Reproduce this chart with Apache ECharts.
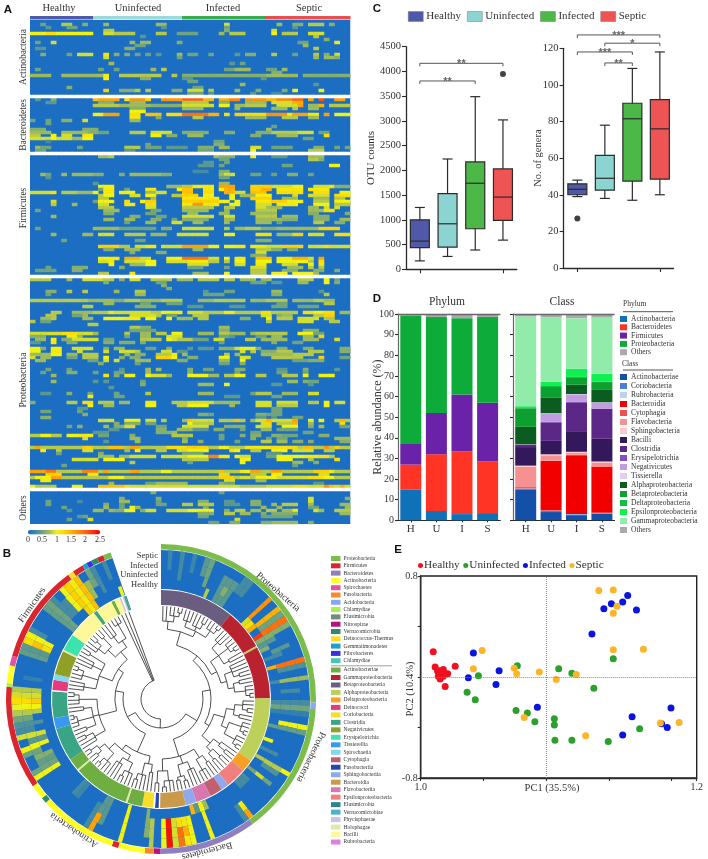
<!DOCTYPE html>
<html><head><meta charset="utf-8">
<style>html,body{margin:0;padding:0;background:#fff}#c{width:708px;height:859px}</style>
<script src="https://cdn.jsdelivr.net/npm/echarts@6/dist/echarts.min.js"></script>
</head><body><div id="c"></div>
<script>
const SERIF = "'Liberation Serif','Times New Roman',serif";
const SANS = "'Liberation Sans',Arial,sans-serif";
/* ---------- Panel A : heat map, rows listed as [row, from,to,value, from,to,value, ...] ---------- */
const heatColumns = 61, heatRows = 168;
const heatSeparators = [25, 44, 85, 156];
const heatGroups = ['Healthy', 'Uninfected', 'Infected', 'Septic'];
const heatActinobacteria = [
[1, 2,2,.5, 6,7,.8, 10,10,.6, 14,14,.7, 24,25,.7, 37,37,.9, 47,47,.7, 50,51,.6, 53,55,.8, 57,57,.6],
[2, 3,3,.4, 7,8,.5, 25,25,.4, 37,37,.5, 50,50,.4],
[3, 14,15,.8, 37,37,.6, 46,46,.9],
[4, 0,11,1, 3,4,1.2, 14,15,.9, 16,19,.8, 24,25,.8, 28,30,.5, 31,31,.5, 36,36,.7, 38,40,.8, 46,46,1, 48,50,.8, 53,55,.9],
[5, 21,21,.4, 54,54,.8],
[6, 56,56,.6],
[7, 1,1,.5, 4,4,.9, 19,19,.7, 21,22,.7, 28,28,.6, 51,52,.5, 58,58,1.1],
[8, 20,21,.5, 52,52,.7],
[9, 1,2,.4, 18,19,.6, 54,54,.8],
[11, 2,2,.6, 7,7,.5, 9,11,.9, 14,14,1.1, 16,16,.6, 18,18,.6, 20,20,.5, 22,22,.5, 24,24,.4, 28,28,.7, 30,31,.5, 34,34,.5, 39,39,.4, 41,42,.6, 46,46,.8, 50,50,.5, 54,54,.8, 56,56,.6, 58,58,.9],
[12, 14,14,.9, 28,28,.5, 54,54,.7, 56,57,.7, 58,58,.6],
[14, 15,15,.7, 38,38,.4, 40,40,.5],
[16, 1,1,.5, 13,13,.5, 16,16,.5, 23,23,.7, 25,25,.8, 37,38,.5, 39,41,.7, 45,46,.5, 48,48,.7],
[17, 46,47,.6],
[18, 0,3,.7, 6,13,.7, 14,14,1.1, 17,24,.8, 27,27,.8, 29,44,.6, 45,50,.7, 52,60,.6],
[19, 14,14,1, 21,22,.6, 29,30,.4, 44,44,.4],
[20, 30,31,.5],
[21, 40,40,.7, 54,54,.4],
[22, 7,7,.6, 31,32,.5],
[23, 14,14,1.3, 17,19,.6, 20,20,.8, 22,22,.8, 27,28,.6, 30,32,.9, 34,34,.8, 39,39,.7, 43,43,.6, 48,48,.6, 50,50,1, 55,55,1],
[24, 30,32,.5, 34,34,.4, 42,42,.4, 46,47,.3]];
const heatBacteroidetes = [
[26, 1,1,.4, 4,4,.6, 12,12,1.4, 13,16,1.6, 18,18,1.2, 19,21,1.7, 22,22,1.3, 25,28,1.7, 29,32,2, 33,34,1.5, 36,37,1.5, 38,39,1.8, 41,44,1.7, 45,46,1.5, 47,49,1.8, 50,51,2, 53,53,1.6, 55,55,2.1, 58,59,1.6],
[27, 3,4,.4, 13,15,.6, 19,21,.7, 29,33,.8, 36,37,.6, 41,44,.7, 46,50,.9, 50,51,1.5],
[28, 12,16,.8, 17,22,.7, 23,28,.6, 29,34,.9, 36,37,1, 39,40,.7, 41,44,.8, 47,50,.9, 51,51,1.6, 53,54,.7, 55,55,1.5, 57,60,.8],
[29, 19,21,.6, 29,32,.7, 39,39,.7, 46,48,.7, 50,50,.8, 53,54,.7],
[30, 19,21,1],
[31, 12,13,1, 14,16,1.6, 19,20,1.2, 22,24,1.4, 26,29,1.2, 29,33,1.9, 34,35,1.5, 37,37,1.2, 39,40,1.3, 41,44,1.2, 45,48,1.7, 49,50,1.1, 50,53,1.6, 53,54,1.1, 56,56,1.6, 58,60,1],
[32, 19,20,1.1, 24,24,.6, 31,32,.8, 41,44,.7, 48,50,.8, 53,54,.7],
[33, 0,0,.5, 3,3,.5, 6,7,.6, 10,10,.9, 19,20,.7],
[34, 3,3,.5],
[35, 46,46,.5],
[36, 0,2,.6, 10,12,.6, 45,45,.7],
[37, 0,3,.7, 6,10,.7, 11,12,.6, 13,14,.5, 19,21,.8, 23,24,.9, 25,26,.9, 29,33,.6, 37,38,.6, 43,45,.6, 46,50,.8, 51,53,.9, 55,56,.5],
[38, 0,1,.8, 4,4,1, 6,7,.9, 10,11,1.1, 23,24,1, 26,27,.6, 30,32,.7, 42,43,.6, 47,50,.7, 56,56,1.2],
[39, 0,3,.9, 4,4,1, 5,8,.9, 8,10,.7, 10,11,1, 52,53,.5],
[40, 3,3,.3, 35,36,.5],
[41, 22,22,.5, 35,36,.6],
[42, 1,1,.7, 2,3,.5, 9,9,.5, 18,20,.8, 22,24,.5, 26,27,.4, 28,29,.4, 32,34,.6, 36,37,.7, 42,43,.9, 46,49,.5, 54,55,.6, 58,58,.5, 60,60,.5],
[43, 1,2,.5, 18,19,.4, 32,34,.5, 42,42,1, 53,55,.8]];
const heatFirmicutes = [
[45, 13,14,.7, 15,15,.8, 35,36,.7, 36,38,.6, 42,42,1, 46,48,.4, 53,55,.7],
[46, 36,37,.5, 53,54,.8, 55,55,.6],
[47, 33,34,.4, 37,37,.5],
[48, 32,34,.4, 36,36,.5, 48,49,.5, 57,58,1],
[50, 31,33,.3, 36,37,.6],
[51, 2,2,.7, 3,3,.5, 6,6,.7, 8,11,.7, 12,13,.6, 17,17,.6, 19,21,.7, 22,25,.7, 25,26,.6, 36,36,.7, 37,38,.9, 42,43,.5, 46,46,.5, 49,50,.6, 53,53,.5],
[52, 3,3,.4, 36,37,.5],
[54, 12,12,.4, 36,37,.7],
[55, 13,15,1, 26,28,.7, 29,30,.8, 31,34,1.1, 36,38,1.6, 42,45,1.3, 46,50,.9, 50,51,1, 54,56,.9, 57,57,1.2, 58,60,.6],
[56, 13,13,.5, 14,15,1.1, 18,18,.5, 22,23,1.1, 28,28,1, 29,30,1.4, 33,34,1.1, 36,36,1, 37,38,1.5, 42,43,1.3, 44,45,1.5, 47,51,1.1, 53,56,1.1],
[57, 0,3,.9, 4,4,1.2, 6,8,.8, 9,11,.7, 12,12,1, 14,15,1.1, 17,19,1, 22,23,.7, 24,25,.9, 29,30,1.4, 33,34,1.2, 37,38,1.5, 39,40,.9, 42,44,1.4, 47,51,1.2, 54,56,1.2, 59,60,1],
[58, 13,13,.8, 14,15,1, 19,20,.9, 22,23,1, 27,28,.8, 29,31,1.3, 33,34,1, 38,38,1, 40,42,.7, 43,45,1, 50,50,.9, 53,56,.9, 58,60,1.2],
[59, 13,14,.8, 23,23,.7, 29,35,1.1, 38,38,1, 42,45,1.3, 48,50,.7, 54,56,.7, 58,59,.8],
[60, 4,4,.9, 12,12,.5, 13,15,1, 18,18,1.2, 21,21,1, 22,23,1.3, 29,35,1.3, 36,37,1, 39,39,1, 43,45,1.1, 46,48,1.3, 49,51,1, 54,56,.8, 58,60,1],
[61, 4,4,.8, 8,8,.7, 13,14,.9, 18,19,1.1, 22,23,1.2, 29,35,1.1, 31,32,1.7, 38,39,1, 43,45,.9, 47,50,1.1, 54,56,1, 58,60,.8],
[62, 13,15,.8, 22,23,.9, 29,34,.8, 37,38,.8, 43,44,.9, 45,47,.7, 53,54,.7, 56,56,.9, 58,58,.9],
[63, 1,1,.5, 14,16,.7, 23,24,.5, 29,33,.7, 37,37,.7, 43,46,.8, 53,55,.7, 56,57,1.2],
[64, 14,15,.6, 22,23,.5, 30,31,.7, 36,37,.7, 42,46,.7, 53,54,.6, 60,60,.6],
[65, 4,4,.7, 19,20,.6, 24,25,.5, 29,34,.9, 37,38,.9, 43,46,.8, 48,50,.7, 54,56,.6],
[66, 14,15,.7, 18,19,.7, 23,24,.6, 27,27,.5, 29,33,.6, 37,38,.7, 43,47,.7, 48,50,.6, 54,56,.6, 59,60,.7],
[67, 18,18,.5, 22,23,.7, 27,28,.9, 31,32,.7, 37,37,.7, 43,45,.7, 47,47,.5, 54,55,.8, 58,59,.6],
[69, 1,1,.5, 12,16,.7, 17,23,.5, 25,26,.6, 29,34,.9, 37,37,.8, 39,41,.7, 41,43,.8, 44,46,.6, 47,51,.7, 51,55,.7, 55,58,1.3],
[71, 4,4,.7, 10,11,.7, 13,15,.9, 18,21,.8, 23,25,.7, 28,33,.9, 37,38,1, 43,45,1.2, 47,49,.7, 50,51,1.3, 53,55,.9, 58,60,1.2],
[73, 6,6,.5, 20,21,.5, 43,45,.6],
[75, 13,16,1.3, 17,18,.8, 20,21,.9, 22,23,1.1, 25,28,.9, 29,33,1.6, 34,35,1, 37,38,1, 39,40,1.1, 42,44,1.1, 45,47,.9, 48,51,1.3, 53,55,.9, 56,56,1.2, 57,60,.9],
[76, 14,15,.6, 18,20,.7, 31,32,.7, 43,45,.8, 46,47,.6, 49,50,.6],
[77, 19,19,.6, 24,25,.6, 43,44,.9],
[78, 42,44,.6],
[79, 13,14,1, 15,16,1.1, 18,20,1.5, 21,22,.9, 26,28,1, 29,33,1.9, 34,35,.9, 37,37,1, 39,40,1.1, 43,45,1.4, 47,49,1.1, 50,52,1.5, 53,53,.9, 55,55,1.6],
[80, 13,14,.9, 15,15,1.1, 18,21,.9, 22,23,1, 26,29,.9, 30,33,1.1, 34,35,.8, 37,37,.8, 39,40,1, 43,45,1, 47,49,1, 50,52,1, 53,53,.8, 55,55,1.2],
[81, 15,15,1, 19,21,.7, 22,23,1, 30,33,.9, 39,40,.9, 43,44,1.1, 48,50,.9, 53,53,1, 55,55,1.1],
[82, 3,3,.5, 8,10,.6, 17,17,.6, 30,32,.5, 37,37,.5, 42,44,.9, 49,51,.7, 53,53,.8, 55,55,.8],
[83, 1,4,.5, 8,9,.6, 42,44,.8, 48,50,.6, 54,55,.6, 58,58,.6],
[84, 13,14,.8, 19,19,1.1, 31,33,.7, 37,37,1, 42,44,.8, 46,48,1, 50,53,1, 54,54,.7]];
const heatProteobacteria = [
[86, 0,3,.8, 7,7,.7, 10,13,.9, 14,15,.8, 17,17,.6, 19,20,.9, 23,26,.8, 28,30,.7, 32,35,.8, 37,38,.8, 40,42,.7, 44,45,.7, 51,53,.8, 56,56,1, 58,58,.5],
[87, 14,14,.6, 24,25,.5, 42,44,.5, 46,47,.4, 51,52,.7, 56,56,1, 58,58,.6],
[88, 25,25,.6],[89, 26,26,.6],
[90, 3,4,.6, 7,7,.8, 10,10,.8, 16,16,.7, 20,21,.8, 33,33,.4, 37,38,.5, 46,47,.7, 55,55,.4],
[91, 3,3,.5, 20,21,.7, 33,36,.5, 46,47,.6, 56,56,.8],
[93, 0,10,.8, 11,12,.7, 13,15,.7, 16,17,.6, 18,20,.8, 21,24,.7, 25,28,.8, 32,34,.7, 35,36,.8, 37,40,.8, 42,44,.7, 45,48,.8, 50,53,.7, 54,55,.8, 56,57,.7],
[94, 14,15,.7, 21,22,.5, 26,28,.5, 47,48,.5, 56,57,.8],
[95, 10,11,.8, 20,23,.6, 30,32,.4, 38,40,.4, 46,48,.5, 51,54,.5],
[97, 4,5,.8, 8,9,.7, 10,11,.7, 12,14,.8, 15,15,1.1, 16,22,.9, 23,24,.8, 25,26,1, 27,28,1.1, 30,32,.9, 33,36,.8, 37,38,1.1, 39,43,.8, 44,45,1.2, 46,50,.8, 52,53,1.2, 54,55,1, 56,57,1.2, 59,60,.7],
[98, 3,4,.8, 8,9,.5, 10,10,.7, 19,23,.9, 24,24,.8, 26,27,.5, 31,33,.8, 44,45,.9, 47,48,.6, 48,49,.7, 54,55,.8, 56,57,1.3],
[99, 2,3,.7, 4,4,.8, 10,11,.7, 14,15,1, 16,17,1, 18,20,1.1, 22,23,1, 26,26,1, 28,30,.7, 32,33,.8, 40,41,.6, 45,45,1, 47,49,.8, 51,54,.9, 56,57,.8],
[100, 0,0,.8, 2,3,.5, 45,45,.8, 51,53,.9, 57,58,.8],
[101, 11,12,.8],
[102, 19,20,.8, 21,22,.6, 36,37,.7],
[103, 19,20,.5, 21,23,.5, 36,37,.6, 52,54,.6],
[104, 0,5,.9, 6,8,1.2, 9,11,.9, 12,12,.7, 18,18,.8, 21,22,.7, 24,25,.8, 27,28,1, 32,34,.7, 36,37,.8, 38,40,.7, 42,42,.7, 43,45,.8, 46,48,.8, 51,53,1, 54,55,.5],
[105, 0,2,.6, 7,8,1.1, 9,9,.7, 18,18,.5, 21,22,.7, 26,28,.9, 36,37,.5, 38,38,.4, 43,44,.5, 46,47,.7, 52,53,.7, 55,55,1.3],
[106, 1,2,.7, 4,4,1, 6,7,.6, 8,12,.9, 14,15,.5, 21,24,.8, 26,26,1, 27,27,.9, 28,30,.8, 31,33,.5, 35,36,.9, 41,42,.8, 44,48,.7, 52,54,.7, 58,58,.9],
[107, 0,1,.4, 4,4,1.1, 7,8,.6, 14,15,.6, 17,19,.6, 21,21,.6, 36,36,.5, 46,46,.6, 50,51,.5],
[109, 0,1,1, 2,2,.6, 4,5,1, 8,11,.9, 14,14,.6, 16,17,.7, 22,23,.5, 26,26,.6, 30,30,.4, 32,34,.4, 36,38,.6, 39,39,.9, 40,42,1, 43,43,.6, 47,48,.6, 52,53,.6, 59,60,.6],
[110, 0,1,1, 4,5,1.1, 9,9,.9, 14,14,.9, 17,19,.9, 20,20,.8, 25,26,.9, 28,29,.4, 40,40,.9, 42,42,.8, 44,46,.6, 47,49,.8, 53,55,.8, 59,60,.6],
[111, 0,3,.7, 4,5,1, 7,8,.7, 10,12,.8, 18,18,.7, 20,21,.6, 24,26,.8, 27,27,1.1, 29,29,.7, 37,37,.8, 39,39,.7, 44,46,.7, 47,49,.7, 50,53,.8],
[112, 0,0,.9, 2,3,.7, 7,8,.5, 10,12,.8, 14,14,1, 17,17,.6, 19,20,.6, 24,26,1.3, 27,27,1, 30,31,.6, 36,37,1, 40,41,.9, 46,51,.8, 55,55,1.3, 59,60,.5],
[113, 1,2,.7, 11,12,.5, 14,14,.9, 16,16,.9, 20,22,.7, 28,29,.6, 36,37,.7, 40,40,1, 50,52,.5, 53,55,.6],
[114, 13,13,.6, 20,20,.5, 36,37,.5, 40,40,.6],
[116, 3,3,.5, 7,7,.5, 17,17,.4, 22,22,.7, 24,24,.7, 30,30,.6, 33,34,.5, 39,40,.6, 47,48,.4, 52,52,.6, 58,58,.4],
[117, 2,2,.5, 7,8,.6, 12,12,.5, 16,17,.5, 22,22,.7, 30,30,.6, 39,39,.5, 47,48,.5, 52,52,.5],
[118, 4,4,.7, 14,14,1.1, 16,16,.6, 18,19,1, 22,22,1, 23,25,.9, 26,26,.7, 30,33,1, 34,35,.7, 37,38,.8, 39,40,1, 43,44,.8, 48,49,.8, 50,50,.8, 52,52,1, 55,57,1],
[120, 4,4,.7, 12,12,.4, 14,14,.4, 21,21,.5, 49,50,.7, 52,52,.6, 53,54,.5],
[121, 21,21,.6, 32,34,.7, 37,37,1, 46,47,.4, 53,53,.4],
[122, 15,15,.4],
[124, 2,3,.4, 7,7,.6, 11,11,.5, 16,16,.5, 22,22,.8, 32,34,.7, 42,42,.5, 43,45,.8, 48,50,.7, 53,54,.9],
[125, 11,11,1.1, 16,17,.5, 37,39,.4, 46,47,.5],
[127, 0,0,.6, 7,8,.8, 10,11,1.2, 13,13,.8, 14,15,.8, 17,18,.7, 22,23,1.1, 27,29,.8, 30,34,.9, 35,36,.7, 37,39,.7, 43,45,.9, 47,50,.9, 53,54,.8, 56,56,1, 58,59,.9],
[128, 11,11,1, 14,15,.7, 22,23,1, 28,29,.8, 30,33,1, 38,38,.7, 43,45,.9, 47,50,.8, 56,56,1],
[129, 9,10,.4, 46,47,.5],
[130, 2,3,.5, 9,9,.5, 46,47,.5],
[131, 10,10,.6, 32,33,.6, 34,34,.5, 43,44,.6, 45,45,.5, 46,47,.5],
[132, 2,3,.6, 43,44,.4, 46,46,.4, 50,51,.5],
[133, 13,15,.9, 18,20,1, 22,23,.9, 25,25,.8, 29,29,.7, 30,30,1.4, 31,34,.9, 36,38,.8, 39,39,1.4, 40,40,.8, 42,42,.7, 43,44,.9, 45,45,1.5, 46,49,.9, 50,50,1.6, 53,53,1, 55,55,1, 58,58,.8, 59,59,1.5, 60,60,.8],
[134, 16,16,.6, 18,20,.6, 22,23,.5, 30,30,1, 31,34,.8, 44,44,.9, 45,45,1.3, 47,49,.8, 50,50,1.5, 53,53,.7, 59,59,1.2],
[135, 7,7,.5, 9,9,.6, 14,14,.7, 16,17,.6, 18,19,.9, 24,25,.5, 29,33,.9, 37,40,.6, 43,45,.9, 48,50,1, 53,53,.6, 55,55,.7, 59,60,.5],
[136, 15,16,.4, 24,25,.6, 28,30,.7, 31,33,.4, 35,36,.6, 40,40,.5, 44,45,.7, 47,50,.5],
[137, 12,14,.4, 24,26,.6, 27,27,.7, 42,43,.5, 52,53,.5],
[138, 0,1,.8, 2,3,1, 4,5,.8, 7,8,1, 9,11,1.1, 13,14,.5, 19,19,.6, 27,28,.8, 29,30,.8, 36,36,.5, 40,40,.6, 42,43,.6, 46,47,.6, 48,50,.5, 55,56,.6],
[139, 10,10,.9, 19,20,.7, 29,29,.6, 36,36,.5, 42,42,.6, 45,45,.5, 47,48,.5, 58,60,.7],
[140, 14,14,.4, 20,20,.7, 29,29,.7, 32,32,.6, 39,39,.5, 44,45,.8, 47,48,.7, 50,51,.6, 53,53,.6, 59,60,.6],
[142, 0,60,.8, 1,1,1.6, 10,11,1.3, 15,17,1.4, 19,20,1.6, 26,29,1.2, 30,33,1.3, 36,37,1, 41,45,1.1, 46,50,1.2, 52,53,1.4, 56,56,1.7, 58,58,1.3],
[143, 2,2,1.1, 5,5,.8, 10,11,.9, 18,18,.7, 20,20,1, 24,25,.8, 28,29,.9, 30,33,1, 38,38,1.2, 39,39,1, 42,43,.8, 46,48,1, 50,53,.9, 56,57,.8],
[144, 5,5,.5, 13,13,.6, 29,29,.5, 30,32,.5, 45,47,.4],
[145, 13,15,.7, 17,18,.7, 19,20,.9, 21,23,.9, 25,26,.9, 27,29,.9, 30,33,1, 34,35,1.8, 36,37,1.1, 39,39,1, 40,41,.9, 45,46,.5, 47,51,1, 52,54,1.1, 55,56,1.2, 57,57,.8],
[146, 8,12,.9, 14,17,1, 29,33,.8, 40,41,1, 47,49,1, 53,53,.8, 58,58,1.2],
[147, 19,19,.8, 30,30,.5, 40,40,1, 50,51,.7, 54,54,.6],
[148, 6,6,.5, 50,50,.5],
[150, 0,60,.8, 0,3,1.6, 3,4,1.9, 10,12,1.8, 14,14,1.6, 19,20,1.6, 25,26,1, 36,36,1.4, 40,40,1.1, 41,41,1, 42,43,1.6, 46,47,1.6, 54,55,1.3, 56,56,1.3, 57,57,1.1],
[151, 3,5,1.3, 11,12,1.1, 36,37,.9, 42,44,.8, 46,47,1, 55,56,.9],
[152, 0,60,.8, 1,4,1, 4,5,1.6, 15,17,1, 30,31,.8, 36,38,1.3, 40,41,.9, 43,46,1, 47,50,.9, 51,52,.9, 53,55,1.2, 56,57,1],
[153, 2,3,1.1, 37,38,.9, 43,44,.7],
[154, 15,15,.7, 22,23,.5, 24,25,.7, 26,27,.7, 28,29,.7, 36,36,.6, 37,38,.5, 54,55,.4],
[155, 0,0,1, 1,4,.8, 8,9,1, 13,17,1.4, 18,18,1.2, 19,29,.9, 30,39,.9, 40,44,.8, 45,60,.9, 50,52,1.2, 56,56,1.7, 57,57,1.4, 59,59,1.5]];
const heatOthers = [
[157, 23,23,.6, 36,36,.5],
[159, 17,17,.6, 24,24,.6, 53,53,.9, 60,60,.6],
[160, 3,3,.5, 9,9,.3, 17,18,.7, 24,24,.5, 32,33,.6, 37,38,.4, 42,43,.6, 53,53,.9],
[161, 3,3,.5, 14,14,.6, 17,17,.5, 24,25,.5, 29,30,.8, 32,34,.8, 37,39,.4, 42,43,.6, 46,46,.7, 48,50,.8, 53,53,.7, 59,60,.7],
[162, 6,6,.5, 14,14,.7, 17,17,.5, 19,19,1, 20,20,.7, 33,33,.6, 44,44,.7, 47,47,.7, 53,54,.5, 60,60,.7],
[163, 7,7,.4, 12,13,.7, 15,15,.7, 16,17,.6, 18,19,1, 21,21,.6, 22,23,.9, 26,29,.9, 30,33,1, 34,34,1, 37,37,.6, 39,40,.8, 42,43,.7, 45,46,.8, 48,49,.7, 50,50,1.1, 54,54,.9, 55,55,.7, 58,60,.8],
[164, 32,34,.6, 37,38,.8, 40,41,.7, 44,44,.6, 46,50,.6, 59,60,.7],
[165, 9,9,.4, 10,10,.5, 32,33,.5, 44,45,.5, 46,49,.5],
[166, 7,7,.5, 11,11,.9, 39,39,.9],
[167, 34,35,.5, 38,39,.6, 44,45,.6, 46,47,.7, 48,50,.7, 53,53,.6]];
const heatBlocks = [heatActinobacteria, heatBacteroidetes, heatFirmicutes, heatProteobacteria, heatOthers];
const heatGroupLabels = ['Actinobacteria', 'Bacteroidetes', 'Firmicutes', 'Proteobacteria', 'Others'];
const heatScaleTicks = ['0', '0.5', '1', '1.5', '2', '2.5'];

/* ---------- Panel B : circular tree and rings ---------- */
const ringLeafCount = 140;
const ringSamples = ['Healthy', 'Uninfected', 'Infected', 'Septic'];
const phylumNames = ['Proteobacteria','Firmicutes','Bacteroidetes','Actinobacteria','Spirochaetes','Fusobacteria','Acidobacteria','Chlamydiae','Elusimicrobia','Nitrospirae','Verrucomicrobia','Deinococcus-Thermus','Gemmatimonadetes','Fibrobacteres','Chlamydiae'];
const phylumColors = ['#7cbc4a','#d9252e','#8f7fbf','#ffff26','#e0559f','#f58a27','#8aa8ee','#a8f050','#77897b','#b5127e','#2e8b6a','#ffdd22','#1ea0c8','#3a30e0','#45c8b0'];
const circleClassNames = ['Actinobacteriae','Gammaproteobacteria','Betaproteobacteria','Alphaproteobacteria','Deltaproteobacteria','Deinococci','Coriobacteria','Clostridia','Negativicutes','Erysipelotrichia','Tissierellia','Spirochaetia','Cytophagia','Fusobacteriia','Sphingobacteriia','Bacteroidia','Flavobacteriia','Epsilonproteobacteria','Elusimicrobia','Verrucomicrobiae','Phycisphaerae','Holophagae','Bacilli','Rubrobacteria'];
const circleClassColors = ['#6fae40','#b8232f','#6b5d80','#bcd05a','#f7a023','#e63a80','#f9dd2a','#3aa585','#8f9f28','#3de3ac','#3a98f0','#80d8f0','#c06070','#2048b0','#90a8ee','#c99a4c','#d878b0','#f08080','#2f8090','#50b0d0','#cdbfe8','#e0eaa8','#fdf89a','#e080e0'];
/* runs: [name index, number of leaves]; -1 = white */
const phylumRuns = [[0,37.5],[6,1],[0,20.5],[2,15],[9,1],[5,1.4],[3,4.1],[1,1],[3,12.1],[10,.9],[3,2.3],[1,15.9],[7,.6],[3,2.7],[4,1.5],[1,15.2],[11,.9],[1,1.7],[12,.7],[13,.8],[10,1],[1,1],[0,1.2]];
const classRuns = [[2,16.2],[1,8.8],[3,.4],[1,11.4],[3,14.3],[4,2.7],[17,4.5],[14,1.7],[12,2.8],[16,3.3],[14,2.4],[15,5.6],[-1,.3],[13,.8],[-1,.4],[6,2.4],[0,3.3],[21,.4],[0,12.3],[21,.4],[0,2.6],[7,7.3],[10,2.4],[7,5.8],[-1,.3],[5,2.2],[11,1.3],[8,5.2],[21,.4],[9,3.7],[22,6.6],[7,.8],[22,3.7],[0,.7],[22,1.2],[20,.4],[-1,.3],[20,.3],[7,.4],[18,.2]];
/* [first leaf, last leaf, first ring, last ring, value] rings 0 = Healthy ... 3 = Septic */
const ringHeatCells = [[1,1,2,3,.25],[3,3,1,3,.3],[5,5,2,3,.25],[7,7,2,3,.4],[8,8,1,3,.5],[9,9,0,0,.8],[11,13,0,2,.4],[12,12,1,1,.6],[14,15,2,3,.3],[19,19,1,3,1.7],[19,19,0,0,.9],[20,20,0,0,1.2],[21,21,0,3,1.5],[22,22,1,3,.5],[23,23,1,3,1.9],[23,23,0,0,2.2],[24,24,0,3,.6],[25,25,0,1,.4],[26,26,0,0,.6],[27,27,1,2,.4],[28,28,0,1,.3],[30,30,0,0,1.5],[30,30,1,3,1.9],[31,31,1,3,.35],[33,33,1,3,.7],[33,33,0,0,.3],[35,35,1,2,.3],[37,37,0,3,.3],[38,38,0,3,.5],[39,39,0,3,.2],[41,41,1,3,1],[42,42,0,3,.45],[45,45,0,0,1],[47,47,0,1,.3],[49,49,0,3,.8],[49,49,3,3,1],[50,50,1,2,.35],[52,52,0,2,.5],[52,52,1,1,.9],[54,54,0,0,.3],[55,56,0,0,.3],[58,58,2,3,1.1],[58,58,3,3,1.6],[59,59,2,3,.3],[65,65,0,3,1],[64,64,0,0,.7],[66,66,0,0,.4],[67,67,0,0,1.5],[68,68,1,3,1],[69,69,1,3,1.1],[69,69,2,2,1.5],[70,70,1,3,1.2],[70,70,2,3,1.9],[71,71,1,3,.9],[72,72,1,3,2.4],[73,73,1,3,1],[75,75,1,3,.8],[76,76,0,2,.6],[80,80,0,3,1],[84,84,0,2,.4],[85,85,0,2,.4],[85,85,2,3,1.6],[86,86,1,3,.3],[90,90,0,1,.25],[91,91,0,1,.3],[97,97,1,3,1],[98,98,1,3,.5],[99,99,1,2,.45],[100,100,1,2,.6],[101,101,2,3,.5],[102,102,1,3,1],[103,103,1,2,.4],[104,104,1,3,.9],[105,105,2,3,.3],[106,106,1,3,.35],[107,107,2,3,.5],[108,108,1,3,.8],[109,109,1,3,1],[110,110,1,3,1.3],[110,110,2,3,1.2],[111,111,1,3,.9],[112,112,1,3,.8],[114,114,1,2,.2],[118,118,1,3,.45],[119,119,1,3,.4],[120,120,1,3,1.2],[120,120,2,2,1.4],[121,121,1,3,1],[122,122,2,3,.3],[126,126,0,3,.45],[127,127,0,3,.5],[128,128,1,3,.3],[129,129,1,2,.3],[130,130,1,3,1],[131,131,0,3,1.3],[132,132,0,3,1.1],[133,133,0,3,1.4],[134,134,1,2,.7],[135,135,2,3,.5],[136,136,1,3,.3],[138,138,2,3,.3],[139,139,0,0,1]];
/* tree: [node radius, children...]; a plain number n is n tips */
const cladeBeta = [70,[78,2,[84,2,[88,2]]],[76,[82,3],[80,2,[86,2]],[84,2,[89,2]]]];
const cladeGamma = [62,[72,[80,3],[84,2,[88,2]],[78,2]],[68,[76,3,[82,2]],[74,[80,2],[85,2,[89,2]]]]];
const cladeAlpha = [66,[74,[82,2,[87,2]],[80,2]],[72,[78,[85,2,[89,2]]],[84,2,[88,2]]]];
const cladeDelta = [74,1,[82,2]], cladeEpsilon = [72,[82,2],[80,2]];
const cladeBacteroidetes = [60,[70,[78,2],[82,2,[87,1]]],[68,[76,3],[80,[85,2],[83,2]]],[72,[82,2,[88,2]],[84,2]]];
const cladeActino = [58,[66,[74,2],[78,2,[84,2]]],[64,[70,[80,2,[86,2]],[76,3]],[72,[82,2,[88,2]],[79,[84,2],[87,2]]]]];
const cladeClostridia = [64,[76,2,[84,2]],[70,[80,2],[86,2,[89,2]],[78,2]],[72,[82,2,[87,2]]]];
const cladeMiddle = [66,[78,3],[74,[82,2,[88,2]]],[76,3],[84,2]];
const cladeBacilli = [62,[72,[80,2,[86,2]],[84,2]],[70,[78,3],[86,3]]];
const treeRoot = [20,[29,[42,[50,[56,cladeBeta,cladeGamma],[55,cladeAlpha,[66,cladeDelta,cladeEpsilon]]],cladeBacteroidetes],[38,cladeActino,[46,cladeClostridia,[52,cladeMiddle,cladeBacilli]]]],3];

/* ---------- Panel C : box plots [min, Q1, median, Q3, max] ---------- */
const boxGroups = ['Healthy', 'Uninfected', 'Infected', 'Septic'];
const boxColors = ['#5059a8', '#8cd4d2', '#4cb848', '#ef5455'];
const otuCounts = [[170,440,570,1000,1250],[260,450,920,1530,2230],[390,820,1740,2170,3490],[590,990,1460,2030,3020]];
const otuOutliers = [[3,3950]];
const genusCounts = [[39,40,43,46,48],[38,42.5,49,61.5,78],[37,47.5,81.5,90,109],[40,48.5,76,92,118]];
const genusOutliers = [[0,27]];
const otuBrackets = [[0,3,4164,'**'],[0,2,3807,'**']];
const genusBrackets = [[0,3,127.3,'***'],[1,3,122.8,'*'],[0,2,118,'***'],[1,2,112,'**']];

/* ---------- Panel D : stacked bars ---------- */
const stackLabels = ['H', 'U', 'I', 'S'];
const stackPhylumNames = ['Actinobacteria','Bacteroidetes','Firmicutes','Proteobacteria','Others'];
const stackPhylumColors = ['#0f71b8','#ff3425','#6a22a8','#0dab3a','#aaaaaa'];
const stackPhylumValues = [[15,4.5,3,3.5],[12,27.5,30.5,25],[10,20,27.5,28.5],[62,46.5,37,41.5],[1,1.5,2,1.5]];
const stackClassNames = ['Actinobacteriae','Coriobacteria','Rubrobacteria','Bacteroidia','Cytophagia','Flavobacteria','Sphingobacteria','Bacilli','Clostridia','Erysipelotrichia','Negativicutes','Tissierella','Alphaproteobacteria','Betaproteobacteria','Deltaproteobacteria','Epsilonproteobacteria','Gammaproteobacteria','Others'];
const stackClassColors = ['#1450a8','#4a80d8','#bcd4f0','#f20000','#f05050','#f79090','#fcc8c8','#34185c','#5c2888','#8450c0','#c09ce0','#e0d0f0','#0a5c20','#0da030','#10c040','#10f050','#90eca8','#aaaaaa'];
const stackClassValues = [[15,4,2.5,3.2],[.3,.5,.4,.3],[.2,.3,.1,.1],[.5,24,28.5,22.4],[0,.2,.3,.2],[10,2.5,1,1.8],[.5,.5,.4,.5],[9,6.5,10,11],[1,9,14,14.5],[0,.2,.2,.2],[.3,4,3.6,2.8],[0,.2,.2,.2],[8.5,7.7,4.5,6],[9,5,3.3,3.8],[.5,.5,.5,.3],[.5,2,4,3.8],[43.5,31.3,24.5,27.4],[1,1.5,2,1.5]];

/* ---------- Panel E : PCoA scatter [PC1, PC2] ---------- */
const pcoaHealthy = [[-.9,.2],[-.885,.08],[-.725,.085],[-.85,.05],[-.82,.06],[-.785,.025],[-.83,.03],[-.86,.005],[-.845,-.015],[-.82,.005],[-.805,-.075],[-.84,.02],[-.825,.045],[-.865,.045],[-.85,.03]];
const pcoaUninfected = [[-.23,.09],[-.54,.01],[-.63,-.12],[-.565,-.18],[-.24,-.265],[-.15,-.285],[-.09,-.355],[.065,-.33],[.065,-.38],[.07,-.5],[.205,-.5],[.495,-.51],[.745,-.41],[.38,-.09],[.205,.03],[.1,.065],[.535,.145]];
const pcoaInfected = [[-.58,.19],[-.62,-.005],[-.375,.05],[-.4,-.06],[-.07,-.24],[.365,.34],[.46,.54],[.52,.58],[.61,.595],[.65,.645],[.72,.53],[.685,-.315],[.61,-.46],[.995,-.245],[.965,-.4],[.92,-.37]];
const pcoaSeptic = [[-.51,.21],[-.58,.065],[-.255,.07],[-.235,.025],[-.055,.04],[.08,-.02],[.24,.02],[-.175,-.32],[.315,-.465],[.42,.685],[.535,.69],[.565,.56],[.535,.505],[.535,.215],[.775,.22],[.91,-.365],[1.06,-.36]];
const pcoaColors = ['#f01020', '#2ca02c', '#0a14e0', '#fcb52a'];

/* ========== build ========== */
const chart = echarts.init(document.getElementById('c'), null, {renderer: 'canvas'});
const TEXT = '#333';
const HEAT_COLORS = ['#1b6ec2','#3a86ac','#6fa47e','#a8bf55','#f2f212','#ffd800','#ffb000','#ff8a08','#ff6010','#ff3008','#f00000'];

const heatMatrix = Array.from({length: heatRows}, () => new Array(heatColumns).fill(0));
heatBlocks.forEach(block => block.forEach(r => {
  for (let i = 1; i < r.length; i += 3)
    for (let c = r[i]; c <= r[i + 1]; c++) heatMatrix[r[0]][c] = r[i + 2];
}));
const heatData = [];
heatMatrix.forEach((row, y) => row.forEach((v, x) => { if (v > 0) heatData.push([x, y, v]); }));
const sepData = [];
heatSeparators.forEach(y => { for (let x = 0; x < heatColumns; x++) sepData.push([x, y, 0]); });

const ringMatrix = ringSamples.map(() => new Array(ringLeafCount).fill(0));
ringHeatCells.forEach(c => {
  for (let l = c[0]; l <= c[1]; l++) for (let r = c[2]; r <= c[3]; r++) ringMatrix[r][l] = c[4];
});
const ringData = [];
ringMatrix.forEach((row, r) => row.forEach((v, l) => { if (v > 0) ringData.push([r, l, v]); }));

function runsToSpans(runs) {
  let at = 0;
  return runs.map(r => { const s = [at, at + r[1], r[0]]; at += r[1]; return s; });
}
const treeEdges = [];
let leafCursor = 0;
function layoutTree(node) {
  const r = node[0], angles = [];
  node.slice(1).forEach(ch => {
    if (typeof ch === 'number') {
      for (let i = 0; i < ch; i++) { const a = leafCursor + .5; leafCursor++; treeEdges.push([r, 93, a, a]); angles.push(a); }
    } else {
      const a = layoutTree(ch); treeEdges.push([r, ch[0], a, a]); angles.push(a);
    }
  });
  const a0 = Math.min(...angles), a1 = Math.max(...angles);
  if (a1 > a0) treeEdges.push([r, r, a0, a1]);
  return (a0 + a1) / 2;
}
layoutTree(treeRoot);

function arcAngles(api, params, r, l0, l1) {
  const cx = params.coordSys.cx, cy = params.coordSys.cy;
  const a = api.coord([r, l0]), b = api.coord([r, l1]);
  const s = Math.atan2(a[1] - cy, a[0] - cx);
  let e = Math.atan2(b[1] - cy, b[0] - cx);
  if (e < s) e += Math.PI * 2;
  return {cx, cy, s, e};
}
function sectorEl(api, params, r0, r1, l0, l1, fill) {
  const g = arcAngles(api, params, r1, l0, l1);
  return {type: 'sector', shape: {cx: g.cx, cy: g.cy, r0, r: r1, startAngle: g.s, endAngle: g.e, clockwise: true},
    style: {fill, stroke: 'none'}};
}
function ringSeries(runs, colors, r0, r1) {
  return {type: 'custom', coordinateSystem: 'polar', polarIndex: 0, silent: true,
    encode: {radius: 2, angle: 0}, data: runsToSpans(runs),
    renderItem(params, api) {
      const idx = api.value(2);
      return sectorEl(api, params, r0, r1, api.value(0), api.value(1), idx < 0 ? '#fff' : colors[idx]);
    }};
}
function boxSeries(name, vals, i, ax) {
  return {name, type: 'custom', xAxisIndex: ax, yAxisIndex: ax, silent: true,
    encode: {x: 0, y: [1, 2, 3, 4, 5]}, itemStyle: {color: boxColors[i]},
    data: [[i].concat(vals)],
    renderItem(params, api) {
      const x = api.value(0), px = v => api.coord([x, v]);
      const lo = px(api.value(1)), q1 = px(api.value(2)), med = px(api.value(3)), q3 = px(api.value(4)), hi = px(api.value(5));
      const w = 9.5, cap = 5, st = {stroke: '#2b2b2b', lineWidth: 1.2}, cx = lo[0];
      const ln = (x1, y1, x2, y2) => ({type: 'line', shape: {x1, y1, x2, y2}, style: st});
      return {type: 'group', children: [
        ln(cx, lo[1], cx, hi[1]),
        ln(cx - cap, lo[1], cx + cap, lo[1]),
        ln(cx - cap, hi[1], cx + cap, hi[1]),
        {type: 'rect', shape: {x: cx - w, y: q3[1], width: 2 * w, height: q1[1] - q3[1]}, style: {fill: boxColors[i], stroke: '#2b2b2b', lineWidth: 1.2}},
        ln(cx - w, med[1], cx + w, med[1])]};
    }};
}
function bracketSeries(list, ax) {
  return {type: 'custom', xAxisIndex: ax, yAxisIndex: ax, silent: true, clip: false,
    encode: {x: [0, 1], y: 2}, data: list.map(b => b.slice(0, 3)),
    renderItem(params, api) {
      const a = api.coord([api.value(0), api.value(2)]), b = api.coord([api.value(1), api.value(2)]);
      return {type: 'group', children: [
        {type: 'polyline', shape: {points: [[a[0], a[1] + 3], [a[0], a[1]], [b[0], b[1]], [b[0], b[1] + 3]]}, style: {stroke: '#555', lineWidth: 1, fill: 'none'}},
        {type: 'text', x: (a[0] + b[0]) / 2, y: a[1] + 1, style: {text: list[params.dataIndex][3], align: 'center', verticalAlign: 'middle', fill: '#666', font: 'bold 11px ' + SANS}}]};
    }};
}
function outlierSeries(list, ax) {
  return {type: 'scatter', xAxisIndex: ax, yAxisIndex: ax, silent: true, symbolSize: 6, itemStyle: {color: '#111'}, data: list};
}
function stackSeries(names, colors, values, ax) {
  return names.map((n, i) => {
    const s = {name: n, type: 'bar', stack: 's' + ax, xAxisIndex: ax, yAxisIndex: ax, barWidth: 21, silent: true,
      itemStyle: {color: colors[i]}, data: values[i]};
    if (i === names.length - 1) s.markLine = {silent: true, symbol: 'none', label: {show: false}, lineStyle: {color: '#666', width: 1.4, type: 'solid'}, data: [{yAxis: 100}]};
    return s;
  });
}
function pcoaSeries(name, data, i) {
  const s = {name, type: 'scatter', xAxisIndex: 5, yAxisIndex: 5, symbolSize: 7, silent: true, itemStyle: {color: pcoaColors[i], opacity: 1}, data};
  if (i === 0) s.markLine = {silent: true, symbol: 'none', label: {show: false}, lineStyle: {color: '#888', width: 1, type: 'dotted'}, data: [{xAxis: 0}, {yAxis: 0}]};
  return s;
}
const axisStyle = (w) => ({show: true, onZero: false, lineStyle: {color: '#2b2b2b', width: w || 1.3}});
const tickStyle = (l) => ({show: true, length: l || 4, lineStyle: {color: '#2b2b2b', width: 1.1}});
const labelStyle = (s, extra) => Object.assign({color: TEXT, fontFamily: SERIF, fontSize: s}, extra || {});
const plainNumber = v => String(v);

/* graphics: labels and small legends drawn as real text */
const G = [];
const T = (text, x, y, size, o) => G.push({type: 'text', x, y, rotation: (o && o.rot) || 0, silent: true,
  style: {text, align: (o && o.align) || 'center', verticalAlign: 'middle', fill: (o && o.fill) || TEXT,
    font: ((o && o.weight) || 'normal') + ' ' + size + 'px ' + ((o && o.fam) || SERIF)}});
const R = (x, y, width, height, fill) => G.push({type: 'rect', silent: true, shape: {x, y, width, height}, style: {fill}});
[['A', 8, 10], ['B', 7, 554], ['C', 377, 9], ['D', 377, 299], ['E', 398, 550]].forEach(p => T(p[0], p[1], p[2], 11.5, {fam: SANS, weight: 'bold', fill: '#111'}));
const headerX = [59, 138, 223, 309];
heatGroups.forEach((g, i) => T(g, headerX[i], 8, 10.5));
[[30, 63, '#4f5baa'], [93, 89, '#9cd9d8'], [182, 84, '#3cab4a'], [266, 84.5, '#e8504f']].forEach(b => R(b[0], 16, b[1], 3.5, b[2]));
[[57], [125], [208], [380], [508]].forEach((p, i) => T(heatGroupLabels[i], 23, p[0], 9.5, {rot: Math.PI / 2}));
[28, 42, 57, 71, 85, 100].forEach((x, i) => T(heatScaleTicks[i], x, 540, 8));
['Septic', 'Infected', 'Uninfected', 'Healthy'].forEach((t, i) => T(t, 158, [556, 566, 575, 585][i], 8.5, {align: 'right'}));
T('Firmicutes', 32, 605, 9.5, {rot: 55 * Math.PI / 180});
T('Proteobacteria', 278, 592, 9.5, {rot: -41 * Math.PI / 180});
T('Proteobacteria', 311, 757, 9.5, {rot: -116 * Math.PI / 180});
T('Bacteroidetes', 207, 851, 9.5, {rot: -166 * Math.PI / 180});
T('Actinobacteria', 74, 830, 9.5, {rot: 146 * Math.PI / 180});
phylumNames.forEach((n, i) => { const y = 558.5 + i * 7.3; R(331, y - 2.5, 9.5, 5, phylumColors[i]); T(n, 343.5, y, 5.5, {align: 'left'}); });
G.push({type: 'line', silent: true, shape: {x1: 331, y1: 665.8, x2: 392, y2: 665.8}, style: {stroke: '#888', lineWidth: .8}});
circleClassNames.forEach((n, i) => { const y = 670 + i * 7.48; R(331, y - 2.5, 9.5, 5, circleClassColors[i]); T(n, 343.5, y, 5.5, {align: 'left'}); });
T('Phylum', 447, 302, 11.5); T('Class', 562, 302, 11.5);
T('Phylum', 623, 304, 7.5, {align: 'left'}); T('Class', 622, 364, 7.5, {align: 'left'});
T('PC1 (35.5%)', 552, 788.5, 10.5);
T('PC2 (10.4%)', 410, 689, 10.5, {rot: Math.PI / 2});
G.push({type: 'line', silent: true, shape: {x1: 623, y1: 311.7, x2: 673, y2: 311.7}, style: {stroke: '#555', lineWidth: 1}});
G.push({type: 'line', silent: true, shape: {x1: 623, y1: 370, x2: 673, y2: 370}, style: {stroke: '#555', lineWidth: 1}});

const legendBase = {selectedMode: false, orient: 'horizontal', padding: 0};
const option = {
  animation: false, backgroundColor: '#fff', textStyle: {fontFamily: SERIF},
  grid: [
    {left: 30, top: 20, width: 320.25, height: 504, show: true, backgroundColor: HEAT_COLORS[0], borderWidth: 0},
    {left: 406, top: 46.7, width: 110.8, height: 222.6},
    {left: 563.6, top: 48.3, width: 110, height: 219.7},
    {left: 398, top: 314, width: 102.4, height: 206.3},
    {left: 513, top: 314, width: 101.6, height: 206.3},
    {left: 420.7, top: 576, width: 276, height: 202, show: true, borderColor: '#222', borderWidth: 1.4, backgroundColor: '#fff'}
  ],
  xAxis: [
    {gridIndex: 0, type: 'category', show: false, data: Array.from({length: heatColumns}, (_, i) => i)},
    {gridIndex: 1, type: 'category', data: boxGroups, axisLine: axisStyle(), axisTick: Object.assign(tickStyle(), {alignWithLabel: true}), axisLabel: {show: false}},
    {gridIndex: 2, type: 'category', data: boxGroups, axisLine: axisStyle(), axisTick: Object.assign(tickStyle(), {alignWithLabel: true}), axisLabel: {show: false}},
    {gridIndex: 3, type: 'category', data: stackLabels, axisLine: axisStyle(1), axisTick: Object.assign(tickStyle(2), {alignWithLabel: true}), axisLabel: labelStyle(11, {margin: 3})},
    {gridIndex: 4, type: 'category', data: stackLabels, axisLine: axisStyle(1), axisTick: Object.assign(tickStyle(2), {alignWithLabel: true}), axisLabel: labelStyle(11, {margin: 3})},
    {gridIndex: 5, type: 'value', min: -1, max: 1.2, interval: .5, splitLine: {show: false}, axisLine: axisStyle(1.4), axisTick: tickStyle(3),
      axisLabel: labelStyle(10, {margin: 4, formatter: v => v === -1 ? '1.0' : (v === 1.2 ? '1.2' : '')})}
  ],
  yAxis: [
    {gridIndex: 0, type: 'category', show: false, inverse: true, data: Array.from({length: heatRows}, (_, i) => i)},
    {gridIndex: 1, type: 'value', min: 0, max: 4500, interval: 500, splitLine: {show: false}, axisLine: axisStyle(), axisTick: tickStyle(),
      axisLabel: labelStyle(10.5, {margin: 5, formatter: plainNumber}), name: 'OTU counts', nameLocation: 'middle', nameGap: 29, nameMoveOverlap: false, nameTextStyle: labelStyle(11)},
    {gridIndex: 2, type: 'value', min: 0, max: 120, interval: 20, splitLine: {show: false}, axisLine: axisStyle(), axisTick: tickStyle(),
      axisLabel: labelStyle(10.5, {margin: 5, formatter: plainNumber}), name: 'No. of genera', nameLocation: 'middle', nameGap: 20, nameMoveOverlap: false, nameTextStyle: labelStyle(10.5)},
    {gridIndex: 3, type: 'value', min: 0, max: 100, interval: 10, splitLine: {show: false}, axisLine: {show: true, lineStyle: {color: '#666', width: 1.2}}, axisTick: tickStyle(3),
      axisLabel: labelStyle(10, {margin: 4, formatter: plainNumber}), name: 'Relative abundance (%)', nameLocation: 'middle', nameGap: 14, nameMoveOverlap: false, nameTextStyle: labelStyle(12)},
    {gridIndex: 4, type: 'value', min: 0, max: 100, interval: 10, splitLine: {show: false}, axisLine: {show: true, lineStyle: {color: '#666', width: 1.2}}, axisTick: tickStyle(3), axisLabel: {show: false}},
    {gridIndex: 5, type: 'value', min: -.8, max: .8, interval: .4, splitLine: {show: false}, axisLine: axisStyle(1.4), axisTick: tickStyle(3),
      axisLabel: labelStyle(10, {margin: 3, formatter: v => v === .8 ? '0.8' : (v === -.8 ? '-0.8' : '')})}
  ],
  polar: {center: [161, 699], radius: [0, 155]},
  radiusAxis: {polarIndex: 0, type: 'value', min: 0, max: 155, show: false},
  angleAxis: {polarIndex: 0, type: 'value', min: 0, max: ringLeafCount * 360 / 341, startAngle: 90, clockwise: true, show: false},
  visualMap: {type: 'continuous', min: 0, max: 2.5, dimension: 2, seriesIndex: [0, 3], orient: 'horizontal',
    left: 28, top: 530, itemWidth: 4.5, itemHeight: 72, calculable: false, realtime: false, text: null, showLabel: false, padding: 0,
    inRange: {color: HEAT_COLORS}, textStyle: {fontSize: 0, color: 'transparent'}},
  legend: [
    Object.assign({}, legendBase, {left: 408, top: 11, itemWidth: 15, itemHeight: 10, itemGap: 6, textStyle: labelStyle(11, {padding: [0, 0, 0, -2]}), icon: 'rect',
      data: boxGroups.map((n, i) => ({name: n, itemStyle: {color: boxColors[i], borderColor: '#777', borderWidth: .5}}))}),
    Object.assign({}, legendBase, {orient: 'vertical', left: 620, top: 315, itemWidth: 7, itemHeight: 6, itemGap: .3, icon: 'rect',
      textStyle: labelStyle(7.5, {lineHeight: 6, padding: [0, 0, 0, -1]}), data: stackPhylumNames.map((n, i) => ({name: n, itemStyle: {color: stackPhylumColors[i]}}))}),
    Object.assign({}, legendBase, {orient: 'vertical', left: 620, top: 373, itemWidth: 7, itemHeight: 6, itemGap: 1, icon: 'rect',
      textStyle: labelStyle(7.5, {lineHeight: 6, padding: [0, 0, 0, -1]}), data: stackClassNames.map((n, i) => ({name: n, itemStyle: {color: stackClassColors[i]}}))}),
    Object.assign({}, legendBase, {left: 418, top: 560, itemWidth: 5, itemHeight: 5, itemGap: 3.5, icon: 'circle', textStyle: labelStyle(11.3, {padding: [0, 0, 0, -4]}),
      data: boxGroups.map((n, i) => ({name: n, itemStyle: {color: pcoaColors[i]}}))})
  ],
  series: [
    {type: 'heatmap', xAxisIndex: 0, yAxisIndex: 0, silent: true, progressive: 0, data: heatData},
    {type: 'heatmap', xAxisIndex: 0, yAxisIndex: 0, silent: true, progressive: 0, itemStyle: {color: '#fff'}, data: sepData},
    ringSeries([[0, ringLeafCount]], [HEAT_COLORS[0]], 110, 149),
    {type: 'custom', coordinateSystem: 'polar', polarIndex: 0, silent: true, encode: {radius: 0, angle: 1}, data: ringData,
      renderItem(params, api) {
        const ring = api.value(0), l = api.value(1), fill = api.visual('color');
        const row = ringMatrix[ring];
        const from = l + (row[l - 1] > 0 ? 0 : .14), to = l + 1 - (row[l + 1] > 0 ? 0 : .14);
        return sectorEl(api, params, 110 + ring * 9.75, 110 + (ring + 1) * 9.75, from, to, fill);
      }},
    ringSeries(classRuns, circleClassColors, 94, 109),
    ringSeries(phylumRuns, phylumColors, 149.5, 155),
    {type: 'custom', coordinateSystem: 'polar', polarIndex: 0, silent: true, encode: {radius: 0, angle: 2}, data: treeEdges,
      renderItem(params, api) {
        const r0 = api.value(0), r1 = api.value(1), a0 = api.value(2), a1 = api.value(3);
        const st = {stroke: '#222', lineWidth: .8, fill: 'none'};
        if (a0 === a1) {
          const p = api.coord([r0, a0]), q = api.coord([r1, a0]);
          return {type: 'line', shape: {x1: p[0], y1: p[1], x2: q[0], y2: q[1]}, style: st};
        }
        const g = arcAngles(api, params, r0, a0, a1);
        return {type: 'arc', shape: {cx: g.cx, cy: g.cy, r: r0, startAngle: g.s, endAngle: g.e, clockwise: true}, style: st};
      }},
    ...otuCounts.map((v, i) => boxSeries(boxGroups[i], v, i, 1)),
    outlierSeries(otuOutliers, 1), bracketSeries(otuBrackets, 1),
    ...genusCounts.map((v, i) => boxSeries(boxGroups[i], v, i, 2)),
    outlierSeries(genusOutliers, 2), bracketSeries(genusBrackets, 2),
    ...stackSeries(stackPhylumNames, stackPhylumColors, stackPhylumValues, 3),
    ...stackSeries(stackClassNames, stackClassColors, stackClassValues, 4),
    pcoaSeries('Healthy', pcoaHealthy, 0), pcoaSeries('Uninfected', pcoaUninfected, 1),
    pcoaSeries('Infected', pcoaInfected, 2), pcoaSeries('Septic', pcoaSeptic, 3)
  ],
  graphic: {elements: G}
};
chart.setOption(option);
</script></body></html>
